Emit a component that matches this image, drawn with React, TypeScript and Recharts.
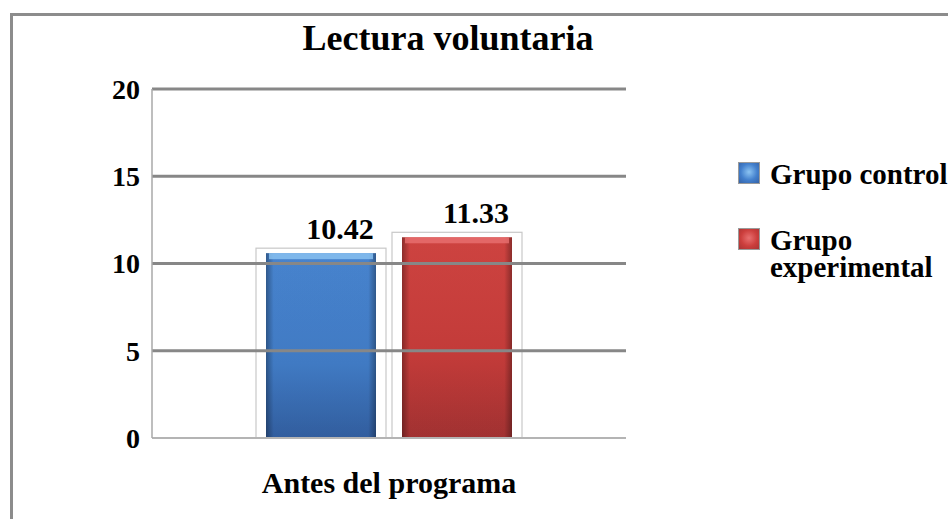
import React from "react";
import { BarChart, Bar, XAxis, YAxis, ReferenceLine, Legend, LabelList } from "recharts";

// values
const categories = ["Antes del programa"];
const grupoControl = [10.42];
const grupoExperimental = [11.33];
const yTicks = [0, 5, 10, 15, 20];
const seriesNames = ["Grupo control", "Grupo experimental"];

const data = categories.map((name, i) => ({
  name,
  control: grupoControl[i],
  experimental: grupoExperimental[i],
}));

const FONT = "'Liberation Serif', 'Times New Roman', serif";

const palette: Record<string, { top: string; mid: string; bottom: string; cap: string }> = {
  control: { top: "#4b8ad8", mid: "#4380cd", bottom: "#3462a6", cap: "#8cc4f2" },
  experimental: { top: "#d84643", mid: "#cc3e3c", bottom: "#a93434", cap: "#e87070" },
};

const GlassBar = (props: any) => {
  const { x, y, width, height, kind } = props;
  const c = palette[kind];
  return (
    <g>
      <defs>
        <linearGradient id={`v-${kind}`} x1="0" y1="0" x2="0" y2="1">
          <stop offset="0%" stopColor={c.top} />
          <stop offset="60%" stopColor={c.mid} />
          <stop offset="100%" stopColor={c.bottom} />
        </linearGradient>
        <linearGradient id={`h-${kind}`} x1="0" y1="0" x2="1" y2="0">
          <stop offset="0%" stopColor="#000" stopOpacity={0.35} />
          <stop offset="7%" stopColor="#000" stopOpacity={0.05} />
          <stop offset="93%" stopColor="#000" stopOpacity={0.05} />
          <stop offset="100%" stopColor="#000" stopOpacity={0.35} />
        </linearGradient>
      </defs>
      {/* pale frame around each bar, like the original 3D chart */}
      <rect x={x - 10} y={y - 8} width={width + 20} height={height + 8} fill="none" stroke="#c8c8c8" strokeWidth={1.2} />
      <rect x={x} y={y - 3} width={width} height={height + 3} fill={`url(#v-${kind})`} />
      <rect x={x} y={y - 3} width={width} height={height + 3} fill={`url(#h-${kind})`} />
      <rect x={x + 3} y={y - 3} width={width - 6} height={6} fill={c.cap} opacity={0.8} />
    </g>
  );
};

const LegendContent = () => (
  <div style={{ fontFamily: FONT, fontWeight: "bold", fontSize: 29, lineHeight: "27px", color: "#000" }}>
    {seriesNames.map((n, i) => {
      const c = palette[i === 0 ? "control" : "experimental"];
      return (
        <div key={n} style={{ display: "flex", alignItems: "flex-start", marginBottom: 39 }}>
          <div
            style={{
              width: 20,
              height: 20,
              marginTop: 1,
              marginRight: 10,
              border: "1px solid #9a9a9a",
              background: `radial-gradient(circle at 50% 45%, ${c.cap} 0%, ${c.mid} 55%, ${c.bottom} 100%)`,
              flexShrink: 0,
            }}
          />
          <div style={{ width: 186 }}>{n}</div>
        </div>
      );
    })}
  </div>
);

export default function App() {
  return (
    <div style={{ position: "absolute", left: 0, top: 0, width: 948, height: 519, background: "#fff", overflow: "hidden" }}>
      <div
        style={{
          position: "absolute",
          left: 10,
          top: 13,
          width: 948,
          height: 519,
          borderTop: "3px solid #8c8c8c",
          borderLeft: "3px solid #8c8c8c",
        }}
      />
      <div
        style={{
          position: "absolute",
          left: 248,
          top: 20,
          width: 400,
          textAlign: "center",
          fontFamily: FONT,
          fontWeight: "bold",
          fontSize: 36,
          lineHeight: "36px",
          color: "#000",
        }}
      >
        Lectura voluntaria
      </div>
      <BarChart
        width={948}
        height={519}
        data={data}
        margin={{ top: 89, right: 322, bottom: 0, left: 0 }}
        barSize={110}
        barGap={26}
        style={{ position: "absolute", left: 0, top: 0 }}
      >
        <XAxis
          dataKey="name"
          height={81}
          tickSize={0}
          tickMargin={34}
          axisLine={{ stroke: "#b4b4b4", strokeWidth: 2 }}
          tick={{ fontFamily: FONT, fontWeight: "bold", fontSize: 30, fill: "#000" }}
        />
        <YAxis
          width={152}
          domain={[0, 20]}
          ticks={yTicks}
          tickSize={0}
          tickMargin={12}
          axisLine={{ stroke: "#a8a8a8", strokeWidth: 1.5 }}
          tick={{ fontFamily: FONT, fontWeight: "bold", fontSize: 28, fill: "#000" }}
        />
        <Bar dataKey="control" name={seriesNames[0]} isAnimationActive={false} shape={(p: any) => <GlassBar {...p} kind="control" />}>
          <LabelList dataKey="control" position="top" offset={17} dx={19} style={{ fontFamily: FONT, fontWeight: "bold", fontSize: 30, fill: "#000" }} />
        </Bar>
        <Bar dataKey="experimental" name={seriesNames[1]} isAnimationActive={false} shape={(p: any) => <GlassBar {...p} kind="experimental" />}>
          <LabelList dataKey="experimental" position="top" offset={17} dx={19} style={{ fontFamily: FONT, fontWeight: "bold", fontSize: 30, fill: "#000" }} />
        </Bar>
        {yTicks.filter((t) => t > 0).map((t) => (
          <ReferenceLine key={t} y={t} stroke="#878787" strokeWidth={3} />
        ))}
        <Legend
          layout="vertical"
          align="center"
          verticalAlign="middle"
          content={<LegendContent />}
          wrapperStyle={{ position: "absolute", left: 738, top: 161, width: 212 }}
        />
      </BarChart>
    </div>
  );
}
